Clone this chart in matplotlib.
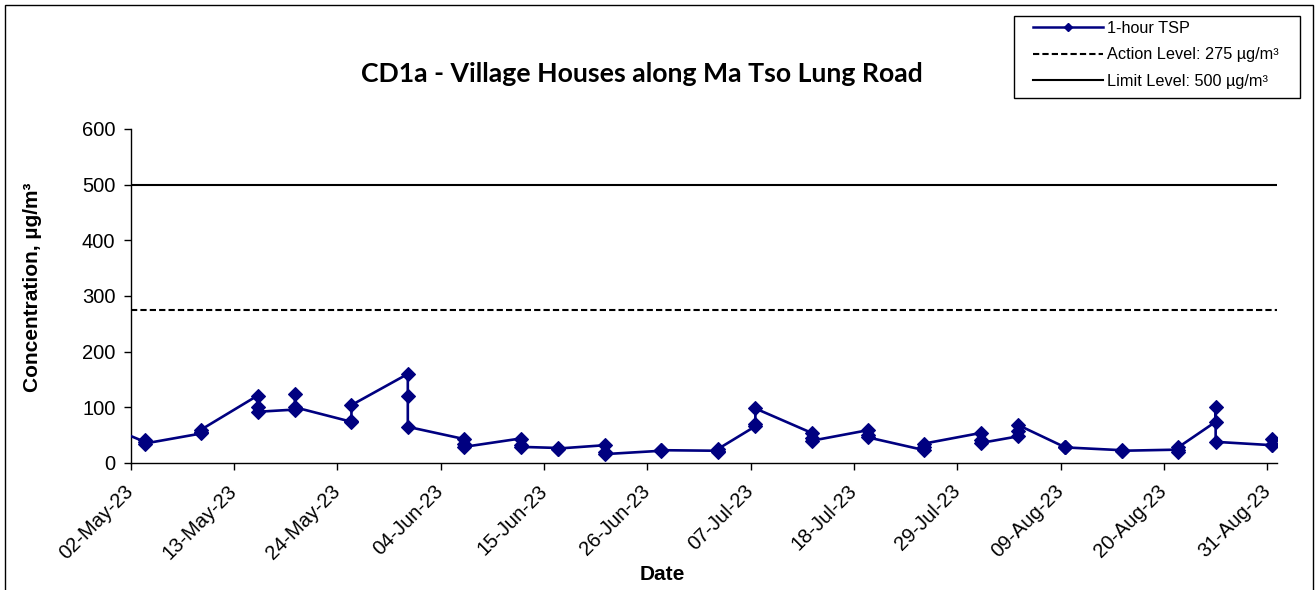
import matplotlib
matplotlib.use("Agg")
import matplotlib.pyplot as plt
import matplotlib.dates as mdates
from matplotlib.lines import Line2D
from matplotlib.patches import Rectangle
import numpy as np
import datetime as dt

# ---------------- data ----------------
sample_dates = ["2023-04-27", "2023-05-03", "2023-05-09", "2023-05-15", "2023-05-19",
                "2023-05-25", "2023-05-31", "2023-06-06", "2023-06-12", "2023-06-16",
                "2023-06-21", "2023-06-27", "2023-07-03", "2023-07-07", "2023-07-13",
                "2023-07-19", "2023-07-25", "2023-07-31", "2023-08-04", "2023-08-09",
                "2023-08-15", "2023-08-21", "2023-08-25", "2023-08-31"]
tsp_1 = [70, 38, 53, 121, 96, 74, 160, 43, 44, 27, 32, 22, 22, 66, 54, 59, 23, 54, 48, 28, 23, 24, 74, 32]
tsp_2 = [75, 42, 55, 100, 124, 76, 120, 35, 32, 26, 20, 23, 20, 70, 45, 50, 28, 42, 58, 28, 21, 20, 100, 43]
tsp_3 = [80, 35, 60, 92, 100, 104, 65, 29, 29, 26, 16, 23, 25, 98, 40, 46, 35, 36, 68, 28, 22, 28, 38, 33]

action_level = 275
limit_level = 500

x_start = "2023-05-02"
x_end = "2023-09-01"
tick_dates = ["2023-05-02", "2023-05-13", "2023-05-24", "2023-06-04", "2023-06-15",
              "2023-06-26", "2023-07-07", "2023-07-18", "2023-07-29", "2023-08-09",
              "2023-08-20", "2023-08-31"]
y_ticks = [0, 100, 200, 300, 400, 500, 600]

title = "CD1a - Village Houses along Ma Tso Lung Road"
series_labels = ["1-hour TSP", "Action Level: 275 µg/m³", "Limit Level: 500 µg/m³"]

# ---------------- build series ----------------
def to_dt(s):
    return dt.datetime.strptime(s, "%Y-%m-%d")

xs, ys = [], []
for d, a, b, c in zip(sample_dates, tsp_1, tsp_2, tsp_3):
    x = to_dt(d) + dt.timedelta(hours=12)   # Excel places points mid-day (between tick marks)
    for v in (a, b, c):
        xs.append(x)
        ys.append(v)

W, H = 1316, 590
fig = plt.figure(figsize=(W / 100, H / 100), dpi=100)
fig.patch.set_facecolor("white")

ax_l, ax_r, ax_t, ax_b = 130.7, 1276.7, 129, 463
ax = fig.add_axes([ax_l / W, 1 - ax_b / H, (ax_r - ax_l) / W, (ax_b - ax_t) / H])

navy = "#000080"
ax.axhline(action_level, color="black", lw=1.5, ls=(0, (3, 1.5)), zorder=2)
ax.axhline(limit_level, color="black", lw=1.5, ls="-", zorder=2)
ax.plot(xs, ys, color=navy, lw=1.9, marker="D", ms=7.4, mec=navy, mfc=navy,
        mew=0.8, zorder=3, clip_on=True)

ax.set_xlim(to_dt(x_start), to_dt(x_end))
ax.set_ylim(0, 600)
ax.set_yticks(y_ticks)
ax.set_xticks([to_dt(t) for t in tick_dates])
ax.xaxis.set_major_formatter(mdates.DateFormatter("%d-%b-%y"))

for s in ["top", "right"]:
    ax.spines[s].set_visible(False)
for s in ["left", "bottom"]:
    ax.spines[s].set_linewidth(1.0)
    ax.spines[s].set_color("black")

tick_font = "Liberation Sans"
ax.tick_params(axis="both", direction="out", length=5, width=1, color="black",
               labelsize=14.5)
ax.tick_params(axis="y", pad=6)
ax.tick_params(axis="x", pad=13)
for lbl in ax.get_yticklabels():
    lbl.set_fontfamily(tick_font)
for lbl in ax.get_xticklabels():
    lbl.set_fontfamily(tick_font)
    lbl.set_rotation(45)
    lbl.set_ha("right")
    lbl.set_va("center")
    lbl.set_rotation_mode("anchor")

ax.set_ylabel("Concentration, µg/m³", fontsize=15, fontweight="bold",
              fontfamily=tick_font)
ax.yaxis.set_label_coords(-0.0774, 0.527)

fig.text(662 / W, 1 - 574 / H, "Date", fontsize=15, fontweight="bold",
         fontfamily=tick_font, ha="center", va="center")

fig.text(642 / W, 1 - 74 / H, title, fontsize=19.2, fontweight="bold",
         fontfamily="Lato", ha="center", va="center")

# legend (frame drawn separately to match padding)
fig.patches.append(Rectangle((1014 / W, 1 - 98 / H), (1300 - 1014) / W, (98 - 16) / H,
                             transform=fig.transFigure, fill=True, facecolor="white",
                             edgecolor="black", lw=1.0, zorder=5))
handles = [
    Line2D([], [], color=navy, lw=1.8, marker="D", ms=3.8, mfc=navy, mec=navy),
    Line2D([], [], color="black", lw=1.5, ls=(0, (3, 1.5))),
    Line2D([], [], color="black", lw=1.5, ls="-"),
]
leg = fig.legend(handles, series_labels, loc="center left",
                 bbox_to_anchor=(1033 / W, 1 - 55 / H),
                 prop={"family": tick_font, "size": 11.7},
                 frameon=False, handlelength=4.3, handletextpad=0.28,
                 borderpad=0, labelspacing=0.7, borderaxespad=0)
leg.set_zorder(6)

# outer chart border
fig.patches.append(Rectangle((4.5 / W, -0.05), (1313 - 4.5) / W, 1 - 4.5 / H + 0.05,
                             transform=fig.transFigure, fill=False,
                             edgecolor="black", lw=1.0, clip_on=False))

fig.savefig("out.png", dpi=100, facecolor="white")
